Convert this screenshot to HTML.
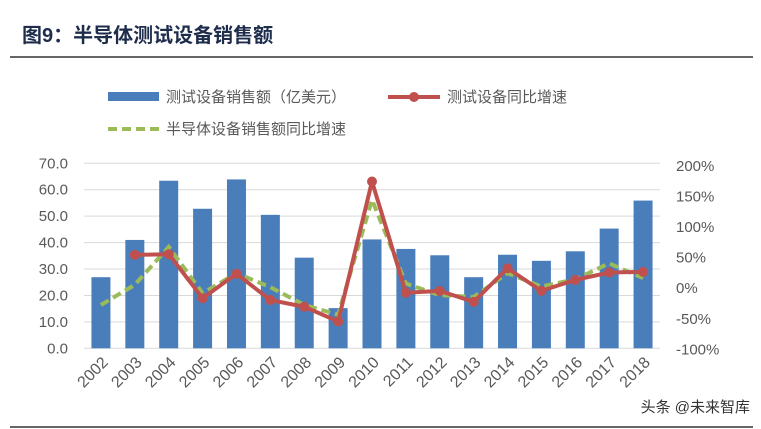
<!DOCTYPE html>
<html><head><meta charset="utf-8"><style>
body{margin:0;background:#fff;width:761px;height:429px;overflow:hidden;font-family:"Liberation Sans","Noto Sans CJK SC",sans-serif}
</style></head><body>
<svg width="761" height="429" style="position:absolute;left:0;top:0">
<text x="22" y="42" font-size="20" font-weight="bold" fill="#1f2d4d" font-family="Liberation Sans,Noto Sans CJK SC,sans-serif">图9：半导体测试设备销售额</text>
<line x1="10" y1="57" x2="753" y2="57" stroke="#333" stroke-width="1.5"/>
<g font-size="15" fill="#595959" font-family="Liberation Sans,Noto Sans CJK SC,sans-serif">
<rect x="108" y="92" width="51" height="9" fill="#4a7ebb"/>
<text x="166" y="102">测试设备销售额（亿美元）</text>
<line x1="388" y1="97" x2="440" y2="97" stroke="#c0504d" stroke-width="4"/>
<circle cx="414" cy="97" r="5" fill="#c0504d"/>
<text x="447" y="102">测试设备同比增速</text>
<line x1="108" y1="129" x2="160" y2="129" stroke="#9bbb59" stroke-width="4" stroke-dasharray="9,5"/>
<text x="166" y="134">半导体设备销售额同比增速</text>
</g>
<g id="plot"></g>
<text x="750" y="412" text-anchor="end" font-size="15" fill="#333" font-family="Liberation Sans,Noto Sans CJK SC,sans-serif">头条 @未来智库</text>
<line x1="10" y1="427" x2="753" y2="427" stroke="#333" stroke-width="1.5"/>
</svg>
<script>
const years=["2002","2003","2004","2005","2006","2007","2008","2009","2010","2011","2012","2013","2014","2015","2016","2017","2018"];
const sales=[26.9,41.0,63.4,52.8,63.9,50.5,34.3,15.2,41.2,37.6,35.2,26.9,35.4,33.1,36.7,45.3,55.9];
const testGrowth=[null,53,54,-18,22,-21,-32,-56,173,-9,-6,-24,31,-6,12,24,25];
const semiGrowth=[-29,4,66,-10,23,0,-29,-45,143,6,-13,-16,23,1,13,39,15];
const leftTicks=[0,10,20,30,40,50,60,70];
const rightTicks=[-100,-50,0,50,100,150,200];
const NS="http://www.w3.org/2000/svg";
const g=document.getElementById('plot');
const X0=84,X1=660,Y0=348.3,Y70=163.3;
const step=(X1-X0)/years.length;
const xc=i=>X0+step*(i+0.5);
const yL=v=>Y0-(v/70)*(Y0-Y70);
const yR=v=>348.3-(v+100)*0.611;
function mk(t,a){const e=document.createElementNS(NS,t);for(const k in a)e.setAttribute(k,a[k]);g.appendChild(e);return e;}
const F="Liberation Sans,Noto Sans CJK SC,sans-serif";
leftTicks.forEach(v=>{
 const l=mk('line',{x1:X0,x2:X1,y1:yL(v),y2:yL(v),stroke:'#d9d9d9','stroke-width':1});
 
 
 const t=mk('text',{x:68,y:yL(v)+5,'text-anchor':'end','font-size':15,fill:'#595959','font-family':F});
 t.textContent=v.toFixed(1);
 
 
});
rightTicks.forEach(v=>{
 const t=mk('text',{x:676,y:yR(v)+6,'font-size':15,fill:'#595959','font-family':F});
 t.textContent=v+'%';
 
 
});
sales.forEach((v,i)=>{
 const r=mk('rect',{x:xc(i)-9.5,y:yL(v),width:19,height:Y0-yL(v),fill:'#4a7ebb'});
 
 
 const t=mk('text',{x:0,y:0,'text-anchor':'end','font-size':16,fill:'#595959','font-family':F,transform:`translate(${xc(i)+8},${Y0+15}) rotate(-45)`});
 t.textContent=years[i];
 
 
});
let sp=semiGrowth.map((v,i)=>xc(i)+','+yR(v)).join(' ');
const sl=mk('polyline',{points:sp,fill:'none',stroke:'#9bbb59','stroke-width':4,'stroke-dasharray':'9,5'});


let tp=testGrowth.map((v,i)=>v==null?null:xc(i)+','+yR(v)).filter(Boolean).join(' ');
const tl=mk('polyline',{points:tp,fill:'none',stroke:'#c0504d','stroke-width':4,'stroke-linejoin':'round'});


testGrowth.forEach((v,i)=>{if(v==null)return;
 const c=mk('circle',{cx:xc(i),cy:yR(v),r:5,fill:'#c0504d'});
 
 
});
</script>
</body></html>
